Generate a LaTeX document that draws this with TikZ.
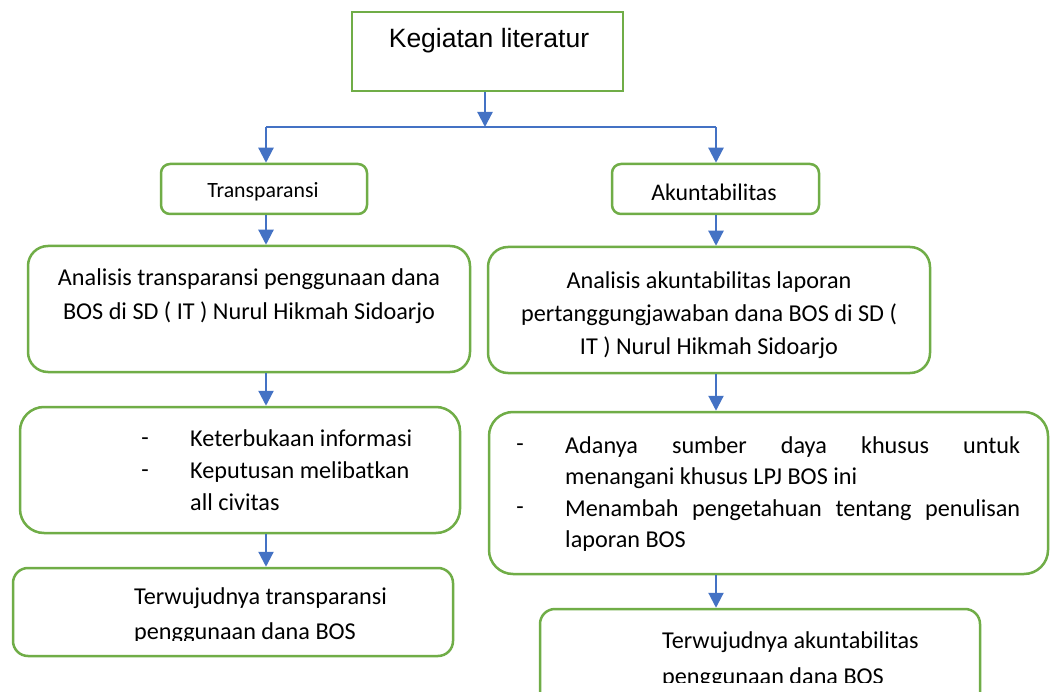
\documentclass[tikz,border=0pt]{standalone}
\usepackage{fontspec}
\setmainfont{Carlito}
\newfontfamily\arialfont{Liberation Sans}
\usetikzlibrary{arrows.meta}
\definecolor{hijau}{HTML}{70AD47}
\definecolor{biru}{HTML}{4472C4}
\setlength{\parindent}{0pt}

\begin{document}
\begin{tikzpicture}[x=1pt,y=-1pt,
  kotak/.style={draw=hijau,line width=2.5pt,inner sep=0pt},
  panah/.style={draw=biru,line width=2.2pt,-{Triangle[length=15pt,width=15pt]}},
  garis/.style={draw=biru,line width=2.2pt},
  isi/.style={font=\fontsize{24.2}{33}\selectfont,inner sep=0pt}]

\useasboundingbox[fill=white] (0,0) rectangle (1051,692);

% Kegiatan literatur
\node[kotak,minimum width=271pt,minimum height=79pt] (keg) at (487.5,51.5) {};
\node[inner sep=0pt,anchor=base,font=\arialfont\fontsize{26.5}{32}\selectfont] (keg-t) at (489,48) {Kegiatan literatur};

% Cabang
\coordinate (split) at (485,127);
\coordinate (kiri) at (266,127);
\coordinate (kanan) at (716,127);

% Transparansi dan Akuntabilitas
\node[kotak,rounded corners=9pt,minimum width=206pt,minimum height=50pt] (trans) at (264,189) {};
\node[inner sep=0pt,anchor=base,font=\fontsize{21.8}{26}\selectfont] (trans-t) at (263,198) {Transparansi};
\node[kotak,rounded corners=9pt,minimum width=207pt,minimum height=50pt] (akun) at (715.5,189) {};
\node[inner sep=0pt,anchor=base,font=\fontsize{23.8}{28}\selectfont] (akun-t) at (714,201) {Akuntabilitas};

% Analisis
\node[kotak,rounded corners=20pt,minimum width=442pt,minimum height=126pt] (antrans) at (249,309) {};
\node[isi,align=center,font=\fontsize{24.2}{34}\selectfont] (antrans-t) at (249,296) {Analisis transparansi penggunaan dana\\BOS di SD ( IT ) Nurul Hikmah Sidoarjo};
\node[kotak,rounded corners=20pt,minimum width=442pt,minimum height=126pt] (anakun) at (709,310) {};
\node[isi,align=center,font=\fontsize{24.2}{33}\selectfont] (anakun-t) at (709,315) {Analisis akuntabilitas laporan\\pertanggungjawaban dana BOS di SD (\\IT ) Nurul Hikmah Sidoarjo};

% Keterbukaan
\node[kotak,rounded corners=24pt,minimum width=440pt,minimum height=126pt] (ketb) at (240,470) {};
\node[isi] (ketb-d1) at (145,442) {-};
\node[isi] (ketb-d2) at (145,474) {-};
\node[isi,align=left,anchor=west,font=\fontsize{24.2}{32}\selectfont] (ketb-t) at (190,470) {Keterbukaan informasi\\Keputusan melibatkan\\all civitas};

% Adanya sumber daya
\node[kotak,rounded corners=24pt,minimum width=559pt,minimum height=162pt] (adanya) at (768.5,493) {};
\node[isi] (adanya-d1) at (520,448) {-};
\node[isi] (adanya-d2) at (520,511) {-};
\node[isi,text width=455pt,align=justify,anchor=west,font=\fontsize{24.2}{31.3}\selectfont] (adanya-t) at (565,494)
  {Adanya sumber daya khusus untuk\linebreak menangani khusus LPJ BOS ini\par
   Menambah pengetahuan tentang penulisan\linebreak laporan BOS};

% Terwujudnya
\node[kotak,rounded corners=15pt,minimum width=440pt,minimum height=88pt] (wujudtr) at (233,612) {};
\begin{scope}
\clip (0,0) rectangle (1051,640.5);
\node[isi,align=left,anchor=west,font=\fontsize{24.2}{35}\selectfont] (wujudtr-t) at (134,615.5) {Terwujudnya transparansi\\penggunaan dana BOS};
\end{scope}
\node[kotak,rounded corners=15pt,minimum width=440pt,minimum height=100pt] (wujudak) at (760,659) {};
\begin{scope}
\clip (0,0) rectangle (1051,682);
\node[isi,align=left,anchor=west,font=\fontsize{24.2}{36}\selectfont] (wujudak-t) at (662,660) {Terwujudnya akuntabilitas\\penggunaan dana BOS};
\end{scope}

% Panah
\draw[panah] (keg.south -| split) -- (split);
\draw[garis] (kiri) -- (kanan);
\draw[panah] (kiri) -- (kiri |- trans.north);
\draw[panah] (kanan) -- (kanan |- akun.north);
\draw[panah] (trans.south -| kiri) -- (antrans.north -| kiri);
\draw[panah] (akun.south -| kanan) -- (anakun.north -| kanan);
\draw[panah] (antrans.south -| kiri) -- (ketb.north -| kiri);
\draw[panah] (anakun.south -| kanan) -- (adanya.north -| kanan);
\draw[panah] (ketb.south -| kiri) -- (wujudtr.north -| kiri);
\draw[panah] (adanya.south -| kanan) -- (wujudak.north -| kanan);

\end{tikzpicture}
\end{document}
